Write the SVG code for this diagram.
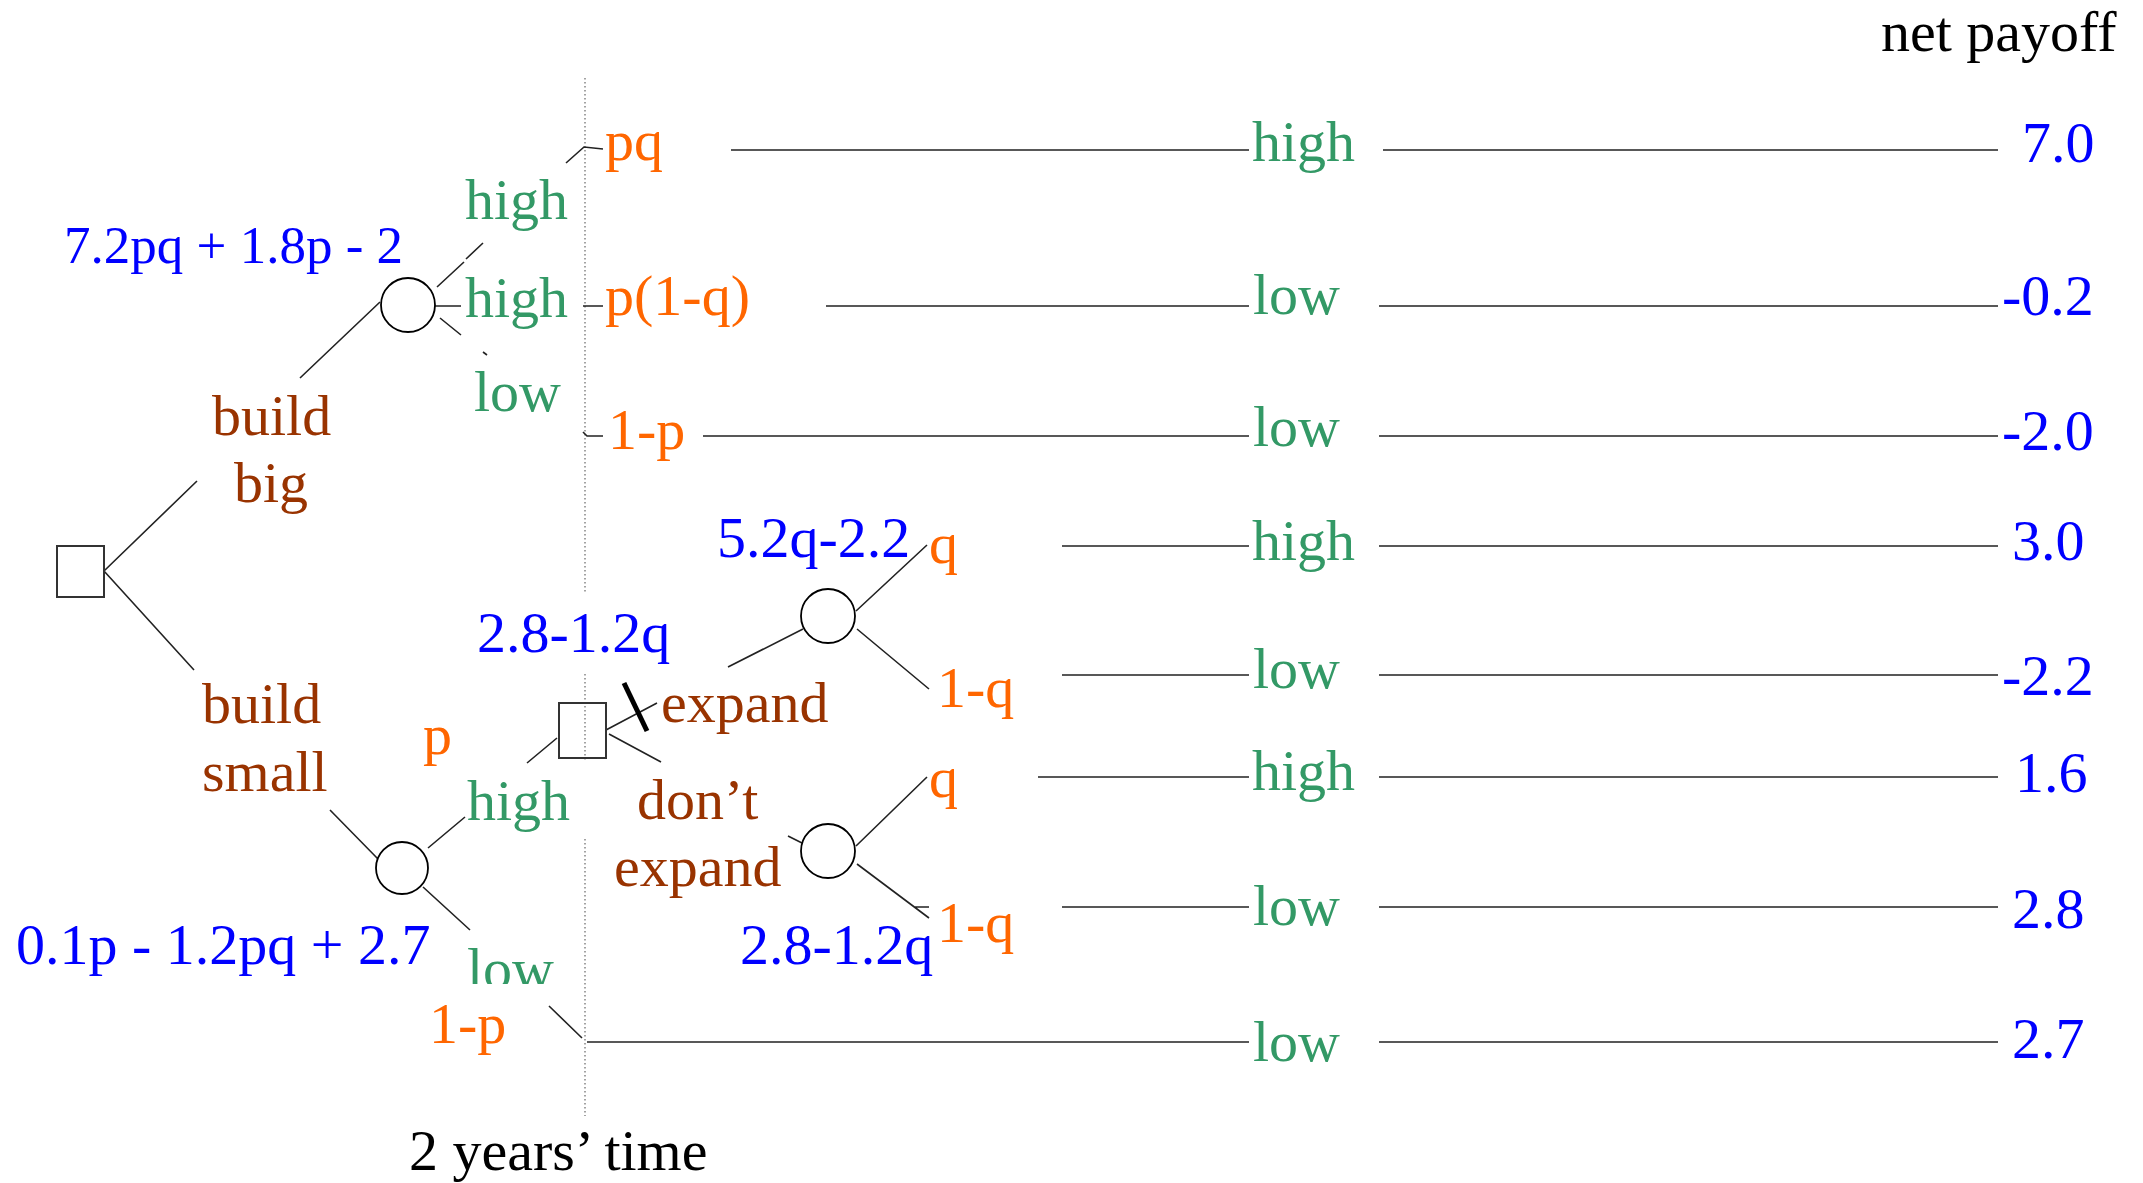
<svg xmlns="http://www.w3.org/2000/svg" width="2143" height="1183" viewBox="0 0 2143 1183">
<defs>
<style>
text{font-family:"Liberation Serif","Times New Roman",serif;font-size:58px}
.blk{fill:#000}
.blue{fill:#0000ff}
.org{fill:#ff6600}
.grn{fill:#339966}
.brn{fill:#993300}
.ln{stroke:#222;stroke-width:1.6;fill:none}
.dot{stroke:#666;stroke-width:1.2;stroke-dasharray:1.5 2.5;fill:none}
.sq{stroke:#333;stroke-width:2;fill:none}
.cir{stroke:#000;stroke-width:1.8;fill:#fff}
</style>
<clipPath id="clipLow"><rect x="400" y="900" width="200" height="84"/></clipPath>
</defs>
<rect width="2143" height="1183" fill="#fff"/>

<g id="timeline">
<path class="dot" d="M585 78V594M585 674V761M585 839V1116"/>
<text class="blk" x="409" y="1170">2 years’ time</text>
</g>

<g id="connectors">
<path class="ln" d="M104 571L197 481M104 571L194 670M300 378L380 302"/>
<path class="ln" d="M437 287L464 262M466 259L483 243M566 163L584 147L603 149"/>
<path class="ln" d="M435 306H461M583 306H603"/>
<path class="ln" d="M440 318L461 335M483 352L487 355M583 432L587 436H603"/>
<path class="ln" d="M731 150H1249M826 306H1249M703 436H1249M1062 546H1249M1062 675H1249M1038 777H1249M1062 907H1249M587 1042H1249"/>
<path class="ln" d="M1383 150H1998M1379 306H1998M1379 436H1998M1379 546H1998M1379 675H1998M1379 777H1998M1379 907H1998M1379 1042H1998"/>
<path class="ln" d="M330 810L378 859M428 848L465 817M527 763L557 738M423 887L470 930M549 1006L582 1038"/>
<path class="ln" d="M606 730L657 703M609 734L661 762"/>
<path d="M624 683L647 731" stroke="#000" stroke-width="5" fill="none"/>
<path class="ln" d="M728 667L803 629M856 611L927 545M857 629L929 689"/>
<path class="ln" d="M788 836L802 843M856 846L927 777M857 864L929 918M915 907H929"/>
</g>

<g id="root-decision"><rect class="sq" x="57" y="546" width="47" height="51"/></g>
<g id="build-big"><text class="brn" x="212" y="435">build</text><text class="brn" x="234" y="502">big</text></g>
<g id="build-small"><text class="brn" x="202" y="723">build</text><text class="brn" x="202" y="791">small</text></g>

<g id="chance-big">
<circle class="cir" cx="408" cy="305" r="27"/>
<text class="blue" x="64" y="263" style="font-size:53px">7.2pq + 1.8p - 2</text>
<text class="grn" x="465" y="219">high</text>
<text class="grn" x="465" y="317">high</text>
<text class="grn" x="474" y="411">low</text>
<text class="org" x="605" y="160">pq</text>
<text class="org" x="605" y="315">p(1-q)</text>
<text class="org" x="608" y="449">1-p</text>
</g>

<g id="chance-small">
<circle class="cir" cx="402" cy="868" r="26"/>
<text class="blue" x="16" y="964">0.1p - 1.2pq + 2.7</text>
<text class="org" x="423" y="754">p</text>
<text class="grn" x="467" y="820">high</text>
<text class="grn" x="467" y="988" clip-path="url(#clipLow)">low</text>
<text class="org" x="429" y="1043">1-p</text>
</g>

<g id="expand-decision">
<rect class="sq" x="559" y="703" width="47" height="55"/>
<text class="blue" x="477" y="652">2.8-1.2q</text>
<text class="brn" x="661" y="722">expand</text>
<text class="brn" x="637" y="819">don’t</text>
<text class="brn" x="614" y="886">expand</text>
</g>

<g id="chance-expand">
<circle class="cir" cx="828" cy="616" r="27"/>
<text class="blue" x="717" y="557">5.2q-2.2</text>
<text class="org" x="929" y="563">q</text>
<text class="org" x="937" y="707">1-q</text>
</g>

<g id="chance-noexpand">
<circle class="cir" cx="828" cy="851" r="27"/>
<text class="blue" x="740" y="964">2.8-1.2q</text>
<text class="org" x="929" y="797">q</text>
<text class="org" x="937" y="942">1-q</text>
</g>

<g id="outcomes">
<text class="grn" x="1252" y="161">high</text>
<text class="grn" x="1253" y="314">low</text>
<text class="grn" x="1253" y="446">low</text>
<text class="grn" x="1252" y="560">high</text>
<text class="grn" x="1253" y="688">low</text>
<text class="grn" x="1252" y="790">high</text>
<text class="grn" x="1253" y="925">low</text>
<text class="grn" x="1253" y="1061">low</text>
</g>

<g id="payoffs">
<text class="blk" x="1881" y="51">net payoff</text>
<text class="blue" x="2022" y="162">7.0</text>
<text class="blue" x="2002" y="315">-0.2</text>
<text class="blue" x="2002" y="450">-2.0</text>
<text class="blue" x="2012" y="560">3.0</text>
<text class="blue" x="2002" y="695">-2.2</text>
<text class="blue" x="2015" y="792">1.6</text>
<text class="blue" x="2012" y="928">2.8</text>
<text class="blue" x="2012" y="1058">2.7</text>
</g>
</svg>
